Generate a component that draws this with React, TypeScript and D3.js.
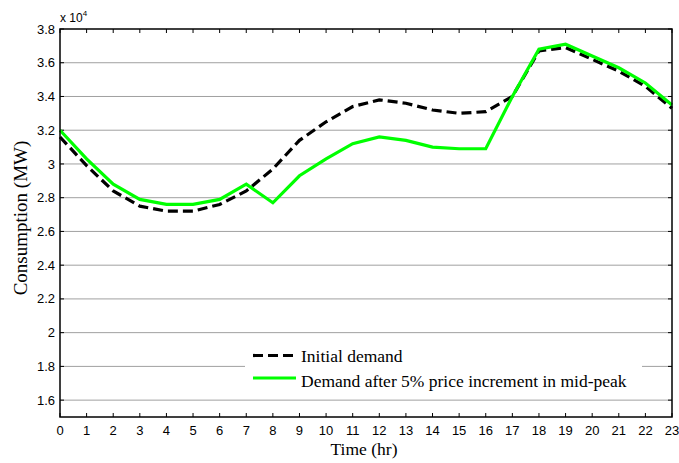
import React from "react";
import * as d3 from "d3";

const hours = d3.range(0, 24);
const initialDemand = [3.16, 2.99, 2.84, 2.75, 2.72, 2.72, 2.76, 2.84, 2.97, 3.14, 3.25, 3.34, 3.38, 3.36, 3.32, 3.30, 3.31, 3.40, 3.67, 3.69, 3.62, 3.55, 3.46, 3.33];
const shiftedDemand = [3.2, 3.03, 2.88, 2.79, 2.76, 2.76, 2.79, 2.88, 2.77, 2.93, 3.03, 3.12, 3.16, 3.14, 3.10, 3.09, 3.09, 3.40, 3.68, 3.71, 3.64, 3.57, 3.48, 3.35];
const yTicks = [1.6, 1.8, 2, 2.2, 2.4, 2.6, 2.8, 3, 3.2, 3.4, 3.6, 3.8];
const legendLabels = ["Initial demand", "Demand after 5% price increment in mid-peak"];

const W = 679, H = 463;
const L = 60, R = 672, T = 29, B = 417;

export default function App() {
  const x = d3.scaleLinear().domain([0, 23]).range([L, R]);
  const y = d3.scaleLinear().domain([1.5, 3.8]).range([B, T]);
  const line = (vals: number[]) =>
    d3.line<number>().x((_, i) => x(hours[i])).y((v) => y(v))(vals) || "";
  const sans = "Arial, 'Liberation Sans', sans-serif";
  const serif = "'Times New Roman', 'Liberation Serif', serif";
  const tk = 4;
  return (
    <svg width={W} height={H} style={{ position: "absolute", left: 0, top: 0, background: "#fff" }}>
      <rect x={0} y={0} width={W} height={H} fill="#fff" />
      {yTicks.filter((v) => v < 3.8).map((v) => (
        <line key={"g" + v} x1={L} x2={R} y1={y(v)} y2={y(v)} stroke="#a0a0a0" strokeWidth={1} />
      ))}
      {yTicks.map((v) => (
        <g key={"yt" + v}>
          <line x1={L} x2={L + tk} y1={y(v)} y2={y(v)} stroke="#000" />
          <line x1={R} x2={R - tk} y1={y(v)} y2={y(v)} stroke="#000" />
          <text x={L - 5} y={y(v)} dy="0.35em" textAnchor="end" fontFamily={sans} fontSize={13} fill="#000">
            {String(v)}
          </text>
        </g>
      ))}
      {hours.map((h) => (
        <g key={"xt" + h}>
          <line x1={x(h)} x2={x(h)} y1={B} y2={B - tk} stroke="#000" />
          <line x1={x(h)} x2={x(h)} y1={T} y2={T + tk} stroke="#000" />
          <text x={x(h)} y={B + 18} textAnchor="middle" fontFamily={sans} fontSize={13} fill="#000">
            {h}
          </text>
        </g>
      ))}
      <path d={line(initialDemand)} fill="none" stroke="#000" strokeWidth={3.2} strokeDasharray="10,5" />
      <path d={line(shiftedDemand)} fill="none" stroke="#00ff00" strokeWidth={3.2} />
      <rect x={L} y={T} width={R - L} height={B - T} fill="none" stroke="#000" strokeWidth={1.5} />
      <text x={L} y={T - 7} fontFamily={sans} fontSize={12} fill="#000">
        x 10<tspan dy={-6} fontSize={8}>4</tspan>
      </text>
      <rect x={245} y={340} width={397} height={53} fill="#fff" />
      <line x1={253} x2={296} y1={355.5} y2={355.5} stroke="#000" strokeWidth={3.2} strokeDasharray="10,5" />
      <line x1={253} x2={296} y1={378} y2={378} stroke="#00ff00" strokeWidth={3.2} />
      <text x={301} y={362} fontFamily={serif} fontSize={17.5} fill="#000">{legendLabels[0]}</text>
      <text x={301} y={387} fontFamily={serif} fontSize={17.5} fill="#000">{legendLabels[1]}</text>
      <text x={364} y={455} textAnchor="middle" fontFamily={serif} fontSize={17.5} fill="#000">Time (hr)</text>
      <text transform={`translate(27,${218}) rotate(-90)`} textAnchor="middle" fontFamily={serif} fontSize={19} fill="#000">
        Consumption (MW)
      </text>
    </svg>
  );
}
